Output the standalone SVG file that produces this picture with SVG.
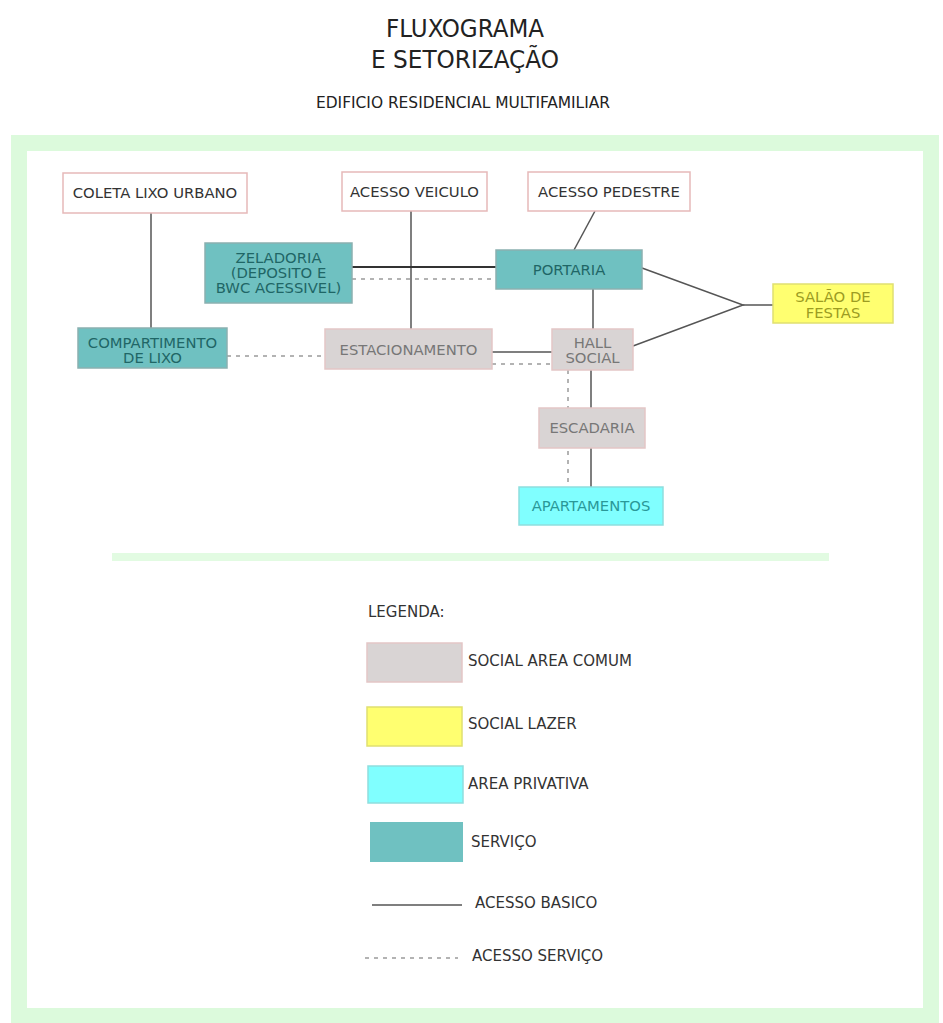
<svg xmlns="http://www.w3.org/2000/svg" width="943" height="1023" viewBox="0 0 943 1023">
<style>
.t{font-family:"DejaVu Sans","Liberation Sans",sans-serif;font-size:14.8px;text-anchor:middle}
.tc{font-family:"DejaVu Sans Condensed","DejaVu Sans",sans-serif;fill:#222;text-anchor:middle}
.lg{font-family:"DejaVu Sans","Liberation Sans",sans-serif;font-size:15px;fill:#333}
.w{fill:#fff;stroke:#e6b9b9;stroke-width:1.5}
.g{fill:#d9d4d4;stroke:#e3c6c6;stroke-width:1.5}
.s{fill:#6fc1c1;stroke:#8ab0b0;stroke-width:1.5}
.y{fill:#ffff70;stroke:#e0e070;stroke-width:1.5}
.c{fill:#80ffff;stroke:#8fdede;stroke-width:1.5}
.tw{fill:#333}
.tg{fill:#777}
.ts{fill:#1f6666}
.ty{fill:#9c9c22}
.tcy{fill:#2a9898}
.sol{stroke:#555;stroke-width:1.5;fill:none}
.dsh{stroke:#9a9a9a;stroke-width:1.5;stroke-dasharray:4 5;fill:none}
</style>
<rect x="0" y="0" width="943" height="1023" fill="#fff"/>
<rect x="19" y="143" width="912" height="873" fill="none" stroke="#dcfadc" stroke-width="16"/>
<line x1="112" y1="557" x2="829" y2="557" stroke="#e2fbe2" stroke-width="8"/>
<text class="tc" x="465" y="37" font-size="25" textLength="158" lengthAdjust="spacingAndGlyphs">FLUXOGRAMA</text>
<text class="tc" x="465" y="68" font-size="25" textLength="188" lengthAdjust="spacingAndGlyphs">E SETORIZAÇÃO</text>
<text class="tc" x="463" y="108" font-size="16" textLength="294" lengthAdjust="spacingAndGlyphs">EDIFICIO RESIDENCIAL MULTIFAMILIAR</text>
<g id="connectors">
<line class="sol" x1="151" y1="213" x2="151" y2="328"/>
<line class="sol" x1="411" y1="211" x2="411" y2="329"/>
<line class="sol" x1="595" y1="211" x2="574" y2="250"/>
<line x1="352" y1="267" x2="496" y2="267" stroke="#333" stroke-width="2"/>
<line class="dsh" x1="352" y1="279" x2="496" y2="279"/>
<line class="sol" x1="593" y1="289" x2="593" y2="329"/>
<polyline class="sol" points="642,268 743,305 633,346"/>
<line class="sol" x1="743" y1="305" x2="773" y2="305"/>
<line class="sol" x1="492" y1="352" x2="552" y2="352"/>
<line class="dsh" x1="492" y1="364" x2="552" y2="364"/>
<line class="dsh" x1="227" y1="356" x2="325" y2="356"/>
<line class="sol" x1="591" y1="370" x2="591" y2="487"/>
<line class="dsh" x1="568" y1="370" x2="568" y2="487"/>
</g>
<g id="coleta"><rect class="w" x="63" y="173" width="184" height="40"/><text class="t tw" x="155" y="198">COLETA LIXO URBANO</text></g>
<g id="acesso-veiculo"><rect class="w" x="342" y="172" width="145" height="39"/><text class="t tw" x="414.5" y="197">ACESSO VEICULO</text></g>
<g id="acesso-pedestre"><rect class="w" x="528" y="172" width="162" height="39"/><text class="t tw" x="609" y="197">ACESSO PEDESTRE</text></g>
<g id="zeladoria"><rect class="s" x="205" y="243" width="147" height="60"/><text class="t ts" x="278.5" y="263" font-size="14">ZELADORIA</text><text class="t ts" x="278.5" y="278" font-size="14">(DEPOSITO E</text><text class="t ts" x="278.5" y="293" font-size="14">BWC ACESSIVEL)</text></g>
<g id="portaria"><rect class="s" x="496" y="250" width="146" height="39"/><text class="t ts" x="569" y="275">PORTARIA</text></g>
<g id="salao"><rect class="y" x="773" y="284" width="120" height="39"/><text class="t ty" x="833" y="302" font-size="14">SALÃO DE</text><text class="t ty" x="833" y="318" font-size="14">FESTAS</text></g>
<g id="compartimento"><rect class="s" x="78" y="328" width="149" height="40"/><text class="t ts" x="152.5" y="348">COMPARTIMENTO</text><text class="t ts" x="152.5" y="363">DE LIXO</text></g>
<g id="estacionamento"><rect class="g" x="325" y="329" width="167" height="40"/><text class="t tg" x="408.5" y="355">ESTACIONAMENTO</text></g>
<g id="hall"><rect class="g" x="552" y="329" width="81" height="41"/><text class="t tg" x="592.5" y="348">HALL</text><text class="t tg" x="592.5" y="363">SOCIAL</text></g>
<g id="escadaria"><rect class="g" x="539" y="408" width="106" height="40"/><text class="t tg" x="592" y="433">ESCADARIA</text></g>
<g id="apartamentos"><rect class="c" x="519" y="487" width="144" height="38"/><text class="t tcy" x="591" y="511">APARTAMENTOS</text></g>
<g id="legenda">
<text class="lg" x="368" y="617">LEGENDA:</text>
<rect class="g" x="367" y="643" width="95" height="39"/><text class="lg" x="468" y="666">SOCIAL AREA COMUM</text>
<rect class="y" x="367" y="707" width="95" height="39"/><text class="lg" x="468" y="729">SOCIAL LAZER</text>
<rect class="c" x="368" y="766" width="95" height="37"/><text class="lg" x="468" y="789">AREA PRIVATIVA</text>
<rect x="370" y="822" width="93" height="40" fill="#6fc1c1"/><text class="lg" x="471" y="847">SERVIÇO</text>
<line class="sol" x1="372" y1="905" x2="462" y2="905"/><text class="lg" x="475" y="908">ACESSO BASICO</text>
<line class="dsh" x1="365" y1="958" x2="458" y2="958"/><text class="lg" x="472" y="961">ACESSO SERVIÇO</text>
</g>
</svg>
